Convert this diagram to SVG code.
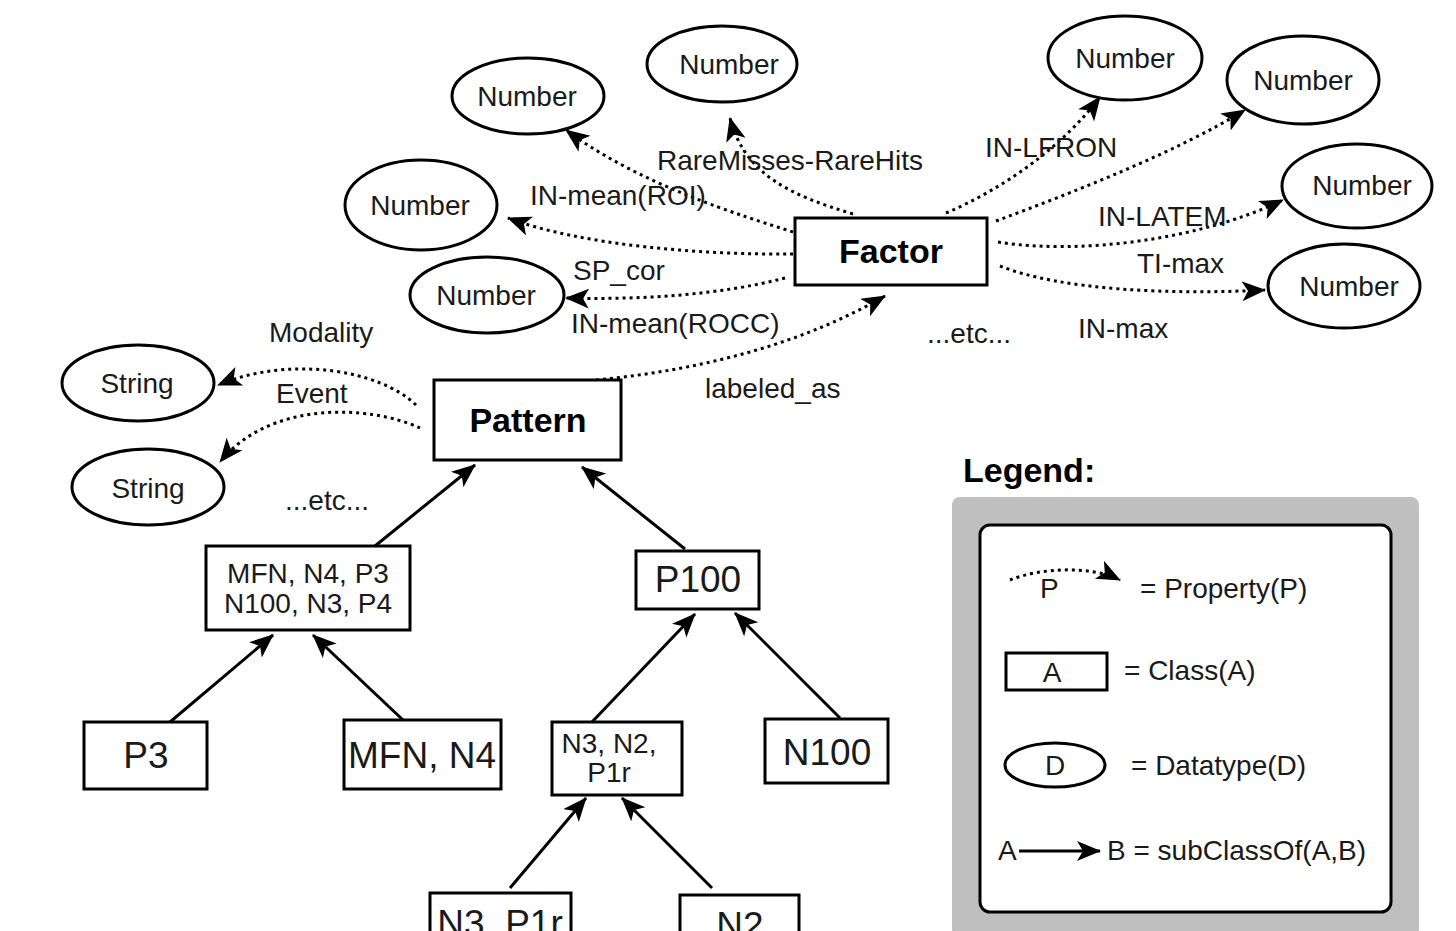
<svg xmlns="http://www.w3.org/2000/svg" width="1456" height="931" viewBox="0 0 1456 931">
<style>
.bg{fill:#ffffff}
.ell{fill:#ffffff;stroke:#000;stroke-width:3}
.box{fill:#ffffff;stroke:#000;stroke-width:3}
.t{font-family:"Liberation Sans",Arial,sans-serif;fill:#1a1a1a;font-size:28px}
.c{text-anchor:middle}
.b{font-weight:bold;font-size:34px;fill:#000}
.big{font-size:37px}
.dot{fill:none;stroke:#000;stroke-width:3;stroke-dasharray:3 4}
.sol{fill:none;stroke:#000;stroke-width:3}
</style>
<defs>
<marker id="ah" markerUnits="userSpaceOnUse" markerWidth="26" markerHeight="22" refX="23" refY="10" orient="auto" viewBox="0 0 26 22">
<path d="M0,0 L24,10 L0,20 L6,10 z" fill="#000"/>
</marker>
</defs>
<rect class="bg" x="0" y="0" width="1456" height="931"/>

<g id="connectors">
<path class="dot" d="M793,232 C740,215 640,185 566,130" marker-end="url(#ah)"/>
<path class="dot" d="M853,214 C790,195 745,175 730,118" marker-end="url(#ah)"/>
<path class="dot" d="M793,254 C700,255 580,245 508,218" marker-end="url(#ah)"/>
<path class="dot" d="M785,278 C720,295 640,300 566,298" marker-end="url(#ah)"/>
<path class="dot" d="M596,380 C700,370 800,345 885,296" marker-end="url(#ah)"/>
<path class="dot" d="M946,213 C1000,190 1060,150 1100,97" marker-end="url(#ah)"/>
<path class="dot" d="M996,221 C1080,190 1180,150 1245,110" marker-end="url(#ah)"/>
<path class="dot" d="M998,242 C1080,255 1200,240 1283,200" marker-end="url(#ah)"/>
<path class="dot" d="M1000,266 C1060,290 1170,295 1265,290" marker-end="url(#ah)"/>
<path class="dot" d="M416,405 C380,370 290,355 218,385" marker-end="url(#ah)"/>
<path class="dot" d="M420,428 C370,405 270,400 220,462" marker-end="url(#ah)"/>
<path class="sol" d="M375,546 L475,465" marker-end="url(#ah)"/>
<path class="sol" d="M685,549 L582,467" marker-end="url(#ah)"/>
<path class="sol" d="M170,722 L273,635" marker-end="url(#ah)"/>
<path class="sol" d="M403,720 L313,635" marker-end="url(#ah)"/>
<path class="sol" d="M592,722 L695,614" marker-end="url(#ah)"/>
<path class="sol" d="M840,718 L735,613" marker-end="url(#ah)"/>
<path class="sol" d="M510,888 L586,798" marker-end="url(#ah)"/>
<path class="sol" d="M712,888 L622,798" marker-end="url(#ah)"/>
</g>

<g id="edge-labels">
<text class="t" x="657" y="170">RareMisses-RareHits</text>
<text class="t" x="530" y="205">IN-mean(ROI)</text>
<text class="t" x="573" y="280">SP_cor</text>
<text class="t" x="571" y="333">IN-mean(ROCC)</text>
<text class="t" x="705" y="398">labeled_as</text>
<text class="t" x="927" y="343">...etc...</text>
<text class="t" x="985" y="157">IN-LFRON</text>
<text class="t" x="1098" y="226">IN-LATEM</text>
<text class="t" x="1137" y="273">TI-max</text>
<text class="t" x="1078" y="338">IN-max</text>
<text class="t" x="269" y="342">Modality</text>
<text class="t" x="276" y="403">Event</text>
<text class="t" x="285" y="510">...etc...</text>
</g>

<g id="n1"><ellipse class="ell" cx="528" cy="96" rx="76" ry="38"/><text class="t c" x="527" y="106">Number</text></g>
<g id="n2"><ellipse class="ell" cx="722" cy="64" rx="75" ry="38"/><text class="t c" x="729" y="74">Number</text></g>
<g id="n3"><ellipse class="ell" cx="421" cy="205" rx="76" ry="45"/><text class="t c" x="420" y="215">Number</text></g>
<g id="n4"><ellipse class="ell" cx="487" cy="295" rx="77" ry="38"/><text class="t c" x="486" y="305">Number</text></g>
<g id="n5"><ellipse class="ell" cx="1125" cy="58" rx="77" ry="42"/><text class="t c" x="1125" y="68">Number</text></g>
<g id="n6"><ellipse class="ell" cx="1303" cy="80" rx="76" ry="44"/><text class="t c" x="1303" y="90">Number</text></g>
<g id="n7"><ellipse class="ell" cx="1357" cy="186" rx="75" ry="42"/><text class="t c" x="1362" y="195">Number</text></g>
<g id="n8"><ellipse class="ell" cx="1344" cy="286" rx="76" ry="42"/><text class="t c" x="1349" y="296">Number</text></g>
<g id="s1"><ellipse class="ell" cx="138" cy="383" rx="76" ry="38"/><text class="t c" x="137" y="393">String</text></g>
<g id="s2"><ellipse class="ell" cx="148" cy="487" rx="76" ry="38"/><text class="t c" x="148" y="498">String</text></g>

<g id="factor"><rect class="box" x="795" y="218" width="192" height="67"/><text class="t c b" x="891" y="263">Factor</text></g>
<g id="pattern"><rect class="box" x="434" y="380" width="187" height="80"/><text class="t c b" x="528" y="432">Pattern</text></g>
<g id="mfn-group"><rect class="box" x="206" y="546" width="204" height="84"/><text class="t c" x="308" y="583">MFN, N4, P3</text><text class="t c" x="308" y="613">N100, N3, P4</text></g>
<g id="p100"><rect class="box" x="636" y="551" width="123" height="58"/><text class="t c big" x="698" y="592">P100</text></g>
<g id="p3"><rect class="box" x="84" y="722" width="123" height="67"/><text class="t c big" x="146" y="768">P3</text></g>
<g id="mfn-n4"><rect class="box" x="344" y="720" width="157" height="69"/><text class="t c big" x="422" y="768">MFN, N4</text></g>
<g id="n3n2p1r"><rect class="box" x="552" y="722" width="130" height="73"/><text class="t c" x="609" y="753">N3, N2,</text><text class="t c" x="609" y="782">P1r</text></g>
<g id="n100"><rect class="box" x="765" y="719" width="123" height="64"/><text class="t c big" x="827" y="765">N100</text></g>
<g id="n3p1r"><rect class="box" x="430" y="893" width="141" height="50"/><text class="t c big" x="500" y="936">N3, P1r</text></g>
<g id="n2"><rect class="box" x="680" y="895" width="119" height="50"/><text class="t c big" x="740" y="938">N2</text></g>

<g id="legend">
<text class="t b" x="963" y="482">Legend:</text>
<rect x="952" y="497" width="467" height="440" rx="8" fill="#bfbfbf"/>
<rect x="980" y="525" width="411" height="387" rx="10" fill="#fff" stroke="#000" stroke-width="3"/>
<path class="dot" d="M1010,580 C1040,568 1090,565 1120,580" marker-end="url(#ah)"/>
<text class="t" x="1040" y="598">P</text>
<text class="t" x="1140" y="598">= Property(P)</text>
<rect class="box" x="1006" y="653" width="101" height="37"/>
<text class="t c" x="1052" y="682">A</text>
<text class="t" x="1124" y="680">= Class(A)</text>
<ellipse class="ell" cx="1055" cy="765" rx="50" ry="22"/>
<text class="t c" x="1055" y="775">D</text>
<text class="t" x="1131" y="775">= Datatype(D)</text>
<text class="t" x="998" y="860">A</text>
<path class="sol" d="M1019,851 L1100,851" marker-end="url(#ah)"/>
<text class="t" x="1107" y="860">B = subClassOf(A,B)</text>
</g>
</svg>
